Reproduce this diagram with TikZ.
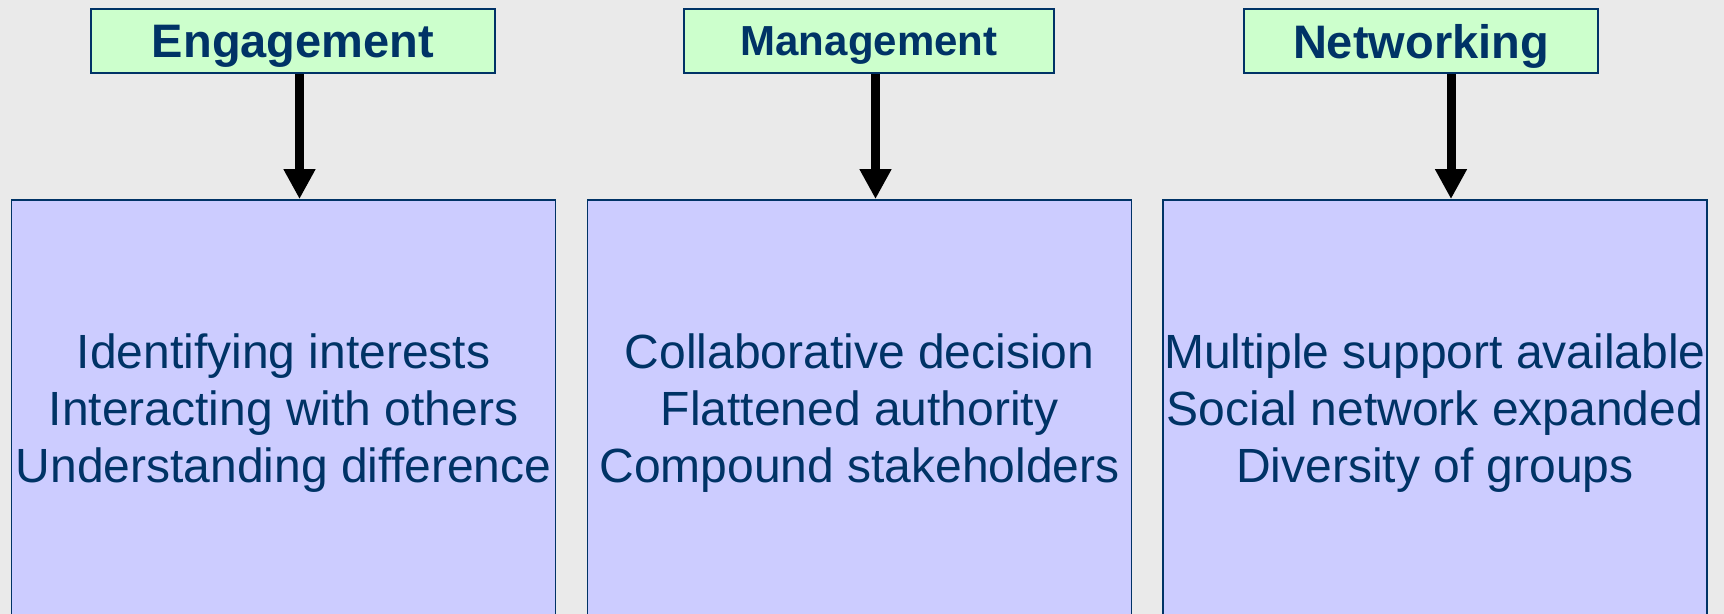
\documentclass[tikz,border=0pt]{standalone}
\usepackage{fontspec}
\setmainfont{Liberation Sans}
\usetikzlibrary{arrows.meta}
\definecolor{navy}{HTML}{003366}
\definecolor{mint}{HTML}{CCFFCC}
\definecolor{lilac}{HTML}{CCCCFF}
\definecolor{bggray}{HTML}{EAEAEA}
\tikzset{
every picture/.style={
line width=0.9pt
},
headbox/.style={draw=navy, fill=mint, text=navy, minimum height=32pt, inner sep=0pt, text depth=0pt},
itembox/.style={draw=navy, fill=lilac, text=navy, align=center, minimum width=272pt,
  minimum height=213.5pt, inner sep=0pt, font=\fontsize{24}{28.5}\selectfont},
downarrow/.style={line width=4.5pt, -{Triangle[width=15pt,length=15pt]}}
}

\begin{document}
\begin{tikzpicture}[x=0.5pt,y=0.5pt]
\fill[bggray] (0,0) rectangle (1724,614);
\useasboundingbox (0,0) rectangle (1724,614);
\clip (0,0) rectangle (1724,614);

\foreach \x/\w/\sz/\name [count=\i] in {293/202/23.5/Engagement, 869/185/21/Management, 1421/177/23.5/Networking}{
  \node[headbox, minimum width=\w pt, font=\bfseries\fontsize{\sz}{28}\selectfont] (t\i) at (\x,573) {\name};
}

\node[itembox] (b1) at (283.5,200.5) {Identifying interests\\Interacting with others\\Understanding difference};
\node[itembox] (b2) at (859.5,200.5) {Collaborative decision\\Flattened authority\\Compound stakeholders};
\node[itembox] (b3) at (1435,200.5) {Multiple support available\\Social network expanded\\Diversity of groups};

\foreach \i in {1,2,3}{
  \draw[downarrow] ([xshift=8pt]b\i.north |- t\i.south) -- ([xshift=8pt]b\i.north);
}
\end{tikzpicture}
\end{document}
